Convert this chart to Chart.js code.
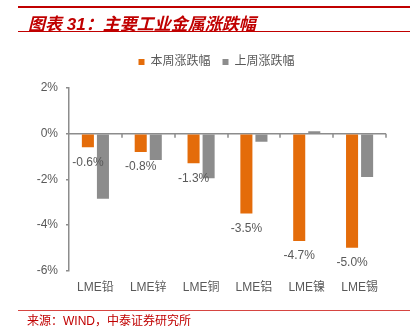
<!DOCTYPE html>
<html>
<head>
<meta charset="utf-8">
<script src="https://cdn.jsdelivr.net/npm/chart.js@4.4.1/dist/chart.umd.min.js"></script>
<style>
  html, body { margin: 0; padding: 0; background: #fff; }
  #wrap { position: relative; width: 414px; height: 336px; overflow: hidden; }
  #myChart { position: absolute; left: 0; top: 0; }
  .rule { position: absolute; left: 18px; width: 392px; background: #C00000; }
  #title { position: absolute; left: 28px; top: 10px; font: italic bold 17px "Liberation Sans", "Noto Sans CJK SC", sans-serif; color: #C00000; white-space: nowrap; }
  #source { position: absolute; left: 27px; top: 311px; font: 12px "Liberation Sans", "Noto Sans CJK SC", sans-serif; color: #C00000; white-space: nowrap; }
</style>
</head>
<body>
<div id="wrap">
  <canvas id="myChart" width="414" height="336"></canvas>
  <div class="rule" style="top:6px;height:2px;"></div>
  <div id="title">图表 31：主要工业金属涨跌幅</div>
  <div class="rule" style="top:31px;height:1px;"></div>
  <div class="rule" style="top:310px;height:1px;background:#D64541;"></div>
  <div id="source">来源：WIND，中泰证券研究所</div>
</div>
<script>
const labels = ['LME铅', 'LME锌', 'LME铜', 'LME铝', 'LME镍', 'LME锡'];
const thisWeek = [-0.6, -0.8, -1.3, -3.5, -4.7, -5.0];
const lastWeek = [-2.85, -1.15, -1.95, -0.35, 0.1, -1.9];
const yTickLabels = ['-6%', '-4%', '-2%', '0%', '2%'];

const ctx = document.getElementById('myChart');
const textColor = '#595959';
const axisColor = '#8C8C8C';
const font = { family: '"Liberation Sans", "Noto Sans CJK SC", sans-serif', size: 12 };

// zero line with category tick marks, drawn from the scales
const zeroAxis = {
  id: 'zeroAxis',
  beforeDatasetsDraw(chart) {
    const x = chart.scales.x, y = chart.scales.y, c = chart.ctx;
    const y0 = y.getPixelForValue(0);
    const step = x.width / labels.length;
    c.save();
    c.strokeStyle = axisColor;
    c.lineWidth = 1.5;
    c.beginPath();
    c.moveTo(x.left, y0);
    c.lineTo(x.right, y0);
    for (let i = 1; i <= labels.length; i++) {
      const px = Math.round(x.left + i * step);
      c.moveTo(px, y0);
      c.lineTo(px, y0 + 4);
    }
    c.stroke();
    c.restore();
  }
};

// value labels under the orange bars
const barLabels = {
  id: 'barLabels',
  afterDatasetsDraw(chart) {
    const c = chart.ctx;
    const meta = chart.getDatasetMeta(0);
    c.save();
    c.fillStyle = textColor;
    c.font = '12px "Liberation Sans", sans-serif';
    c.textAlign = 'center';
    c.textBaseline = 'middle';
    meta.data.forEach((bar, i) => {
      c.fillText(thisWeek[i].toFixed(1) + '%', bar.x, bar.y + 15);
    });
    c.restore();
  }
};

// extra room between legend and plot, and nudge legend right
const legendGap = {
  id: 'legendGap',
  beforeInit(chart) {
    const fit = chart.legend.fit;
    chart.legend.fit = function () {
      fit.bind(chart.legend)();
      this.height += 10;
    };
  },
  afterLayout(chart) {
    chart.legend.left += 14;
    chart.legend.right += 14;
  }
};

new Chart(ctx, {
  type: 'bar',
  data: {
    labels: labels,
    datasets: [{
      label: '本周涨跌幅',
      data: thisWeek,
      backgroundColor: '#E46C0A',
      categoryPercentage: 0.57,
      barPercentage: 0.8
    }, {
      label: '上周涨跌幅',
      data: lastWeek,
      backgroundColor: '#8C8C8C',
      categoryPercentage: 0.57,
      barPercentage: 0.8
    }]
  },
  options: {
    responsive: false,
    animation: false,
    layout: { padding: { left: 19, right: 28, top: 44, bottom: 31 } },
    plugins: {
      legend: {
        position: 'top',
        labels: { boxWidth: 6, boxHeight: 6, padding: 12, color: textColor, font: font }
      },
      tooltip: { enabled: false }
    },
    scales: {
      x: {
        grid: { display: false, drawTicks: false },
        border: { display: false },
        ticks: { color: textColor, font: font, padding: 10, maxRotation: 0 }
      },
      y: {
        min: -6,
        max: 2,
        afterFit(scale) { scale.width = 50; },
        grid: { drawOnChartArea: false, drawTicks: true, tickLength: 3, color: axisColor, lineWidth: 1.5 },
        border: { color: axisColor, width: 1.5 },
        ticks: { color: textColor, font: font, padding: 8, stepSize: 2, callback: (v, i) => yTickLabels[i] }
      }
    }
  },
  plugins: [legendGap, zeroAxis, barLabels]
});
</script>
</body>
</html>
